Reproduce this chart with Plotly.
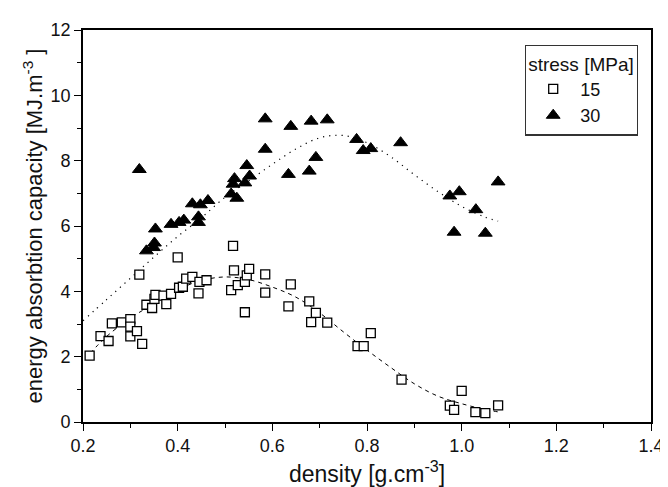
import plotly.graph_objects as go

# 15 MPa data (squares)
density_15 = [0.214, 0.237, 0.254, 0.261, 0.282, 0.300, 0.300, 0.300, 0.314, 0.325,
              0.319, 0.334, 0.346, 0.351, 0.353, 0.370, 0.376, 0.386, 0.400, 0.403,
              0.411, 0.418, 0.431, 0.444, 0.446, 0.461, 0.513, 0.517, 0.519, 0.527,
              0.542, 0.542, 0.546, 0.551, 0.585, 0.585, 0.634, 0.639, 0.678, 0.682,
              0.692, 0.716, 0.780, 0.793, 0.808, 0.873, 0.975, 0.984, 1.000, 1.029,
              1.050, 1.077]
energy_15 = [2.03, 2.63, 2.48, 3.02, 3.05, 3.15, 2.92, 2.62, 2.78, 2.39,
             4.51, 3.59, 3.49, 3.77, 3.89, 3.87, 3.61, 3.92, 5.04, 4.11,
             4.14, 4.39, 4.44, 3.94, 4.29, 4.34, 4.04, 5.39, 4.64, 4.19,
             4.29, 3.36, 4.49, 4.69, 4.52, 3.96, 3.54, 4.21, 3.69, 3.06,
             3.34, 3.04, 2.32, 2.32, 2.72, 1.30, 0.50, 0.37, 0.95, 0.30,
             0.27, 0.51]

# 30 MPa data (triangles)
density_30 = [0.319, 0.334, 0.349, 0.351, 0.353, 0.386, 0.403, 0.413, 0.431, 0.448,
              0.444, 0.444, 0.464, 0.513, 0.525, 0.517, 0.520, 0.542, 0.552, 0.546,
              0.585, 0.585, 0.634, 0.639, 0.678, 0.682, 0.692, 0.716, 0.778, 0.792,
              0.808, 0.871, 0.975, 0.995, 0.984, 1.030, 1.050, 1.077]
energy_30 = [7.73, 5.24, 5.34, 5.48, 5.91, 6.05, 6.11, 6.18, 6.68, 6.65,
             6.28, 6.11, 6.78, 6.98, 6.85, 7.28, 7.45, 7.32, 7.53, 7.85,
             8.35, 9.28, 7.58, 9.05, 7.68, 9.21, 8.10, 9.25, 8.65, 8.31,
             8.37, 8.55, 6.92, 7.05, 5.81, 6.50, 5.78, 7.35]

# fitted trend curves
fit15_x = [0.215, 0.25, 0.30, 0.35, 0.40, 0.45, 0.50, 0.55, 0.60, 0.65, 0.70, 0.75,
           0.80, 0.85, 0.90, 0.95, 1.00, 1.05, 1.077]
fit15_y = [2.10, 2.62, 3.18, 3.62, 4.05, 4.33, 4.44, 4.36, 4.13, 3.82, 3.34, 2.76,
           2.20, 1.67, 1.17, 0.79, 0.56, 0.38, 0.31]
fit30_x = [0.20, 0.25, 0.30, 0.35, 0.40, 0.45, 0.50, 0.55, 0.60, 0.65, 0.70, 0.75,
           0.80, 0.85, 0.90, 0.95, 1.00, 1.05, 1.077]
fit30_y = [3.10, 3.75, 4.40, 5.05, 5.68, 6.25, 6.88, 7.38, 7.89, 8.36, 8.70, 8.77,
           8.55, 8.12, 7.57, 7.05, 6.60, 6.27, 6.15]

x_ticks = [0.2, 0.4, 0.6, 0.8, 1.0, 1.2, 1.4]
y_ticks = [0, 2, 4, 6, 8, 10, 12]

FONT = "Liberation Sans, Arial, sans-serif"
INK = "#111"

fig = go.Figure()
fig.add_trace(go.Scatter(x=fit15_x, y=fit15_y, mode="lines", line_shape="spline",
                         line=dict(color="black", width=1, dash="4px,4px"),
                         showlegend=False, hoverinfo="skip"))
fig.add_trace(go.Scatter(x=fit30_x, y=fit30_y, mode="lines", line_shape="spline",
                         line=dict(color="black", width=1.2, dash="1.2px,5px"),
                         showlegend=False, hoverinfo="skip"))
fig.add_trace(go.Scatter(x=density_15, y=energy_15, mode="markers", name="15",
                         legendgroup="a",
                         marker=dict(symbol="square", size=9, color="white",
                                     line=dict(color="black", width=1.3))))
fig.add_trace(go.Scatter(x=density_30, y=energy_30, mode="markers", name="30",
                         legendgroup="b",
                         marker=dict(symbol="triangle-up", size=12, color="black",
                                     line=dict(color="black", width=1))))

axis_common = dict(showline=True, linecolor="black", linewidth=1.6, mirror=True,
                   ticks="outside", ticklen=7, tickwidth=1.3, tickcolor="black",
                   showgrid=False, zeroline=False,
                   tickfont=dict(family=FONT, size=18, color=INK))

fig.update_xaxes(range=[0.2, 1.4], tickvals=x_ticks,
                 ticktext=[f"{v:.1f}" for v in x_ticks],
                 minor=dict(ticks="outside", ticklen=4, dtick=0.1, tick0=0.2,
                            tickcolor="black", tickwidth=1.3, showgrid=False),
                 title=dict(text="density [g.cm<sup>-3</sup>]",
                            font=dict(family=FONT, size=23, color=INK), standoff=10),
                 **axis_common)
fig.update_yaxes(range=[0, 12], tickvals=y_ticks,
                 minor=dict(ticks="outside", ticklen=4, dtick=1, tick0=0,
                            tickcolor="black", tickwidth=1.3, showgrid=False),
                 title=dict(text="energy absorbtion capacity [MJ.m<sup>-3</sup> ]",
                            font=dict(family=FONT, size=22, color=INK), standoff=2),
                 **axis_common)

fig.update_layout(
    width=668, height=487,
    margin=dict(l=75, r=12, t=14, b=72),
    plot_bgcolor="white", paper_bgcolor="white",
    font=dict(family=FONT, color=INK),
    legend=dict(title=dict(text="stress [MPa]", font=dict(family=FONT, size=19, color=INK)),
                font=dict(family=FONT, size=18, color=INK),
                x=0.778, y=0.9626, xanchor="left", yanchor="top",
                bgcolor="white", bordercolor="#333", borderwidth=1.3,
                itemwidth=44, tracegroupgap=0, traceorder="grouped"),
)

fig.write_html("out.html")
